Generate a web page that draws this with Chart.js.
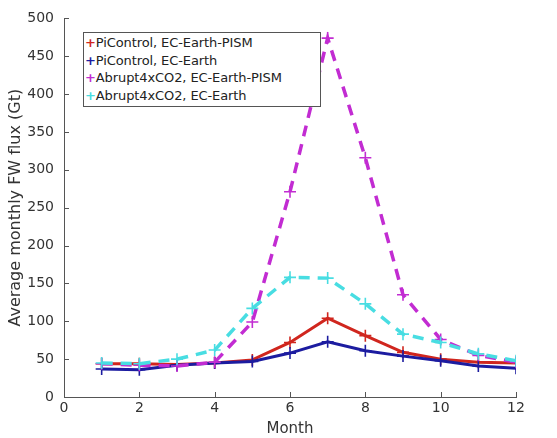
<!DOCTYPE html>
<html>
<head>
<meta charset="utf-8">
<script src="https://cdn.jsdelivr.net/npm/chart.js@4"></script>
<style>
  html, body { margin: 0; padding: 0; background: #fff; }
  #wrap { position: relative; width: 557px; height: 438px; }
  #legend {
    position: absolute; left: 83px; top: 32px; width: 236px;
    border: 1px solid #555; background: #fff;
    font-family: "DejaVu Sans", sans-serif; font-size: 13px; color: #222;
    padding: 1px 0 2px 0; line-height: 17.5px;
  }
  #legend div { white-space: nowrap; padding-left: 1px; letter-spacing: -0.1px; }
  #legend span { font-weight: bold; }
</style>
</head>
<body>
<div id="wrap">
  <canvas id="c" width="557" height="438"></canvas>
  <div id="legend"></div>
</div>
<script>
// データ
const months = [1, 2, 3, 4, 5, 6, 7, 8, 9, 10, 11, 12];
const piPism = [44, 44, 43, 45, 49, 72, 104, 81, 59, 50, 46, 45];
const piEc = [37, 36, 42, 45, 47, 58, 73, 61, 54, 48, 41, 38];
const abPism = [44, 42, 41, 46, 99, 271, 474, 316, 135, 76, 55, 46];
const abEc = [45, 44, 50, 62, 117, 158, 157, 123, 83, 72, 57, 48];
const labels = [
  'PiControl, EC-Earth-PISM',
  'PiControl, EC-Earth',
  'Abrupt4xCO2, EC-Earth-PISM',
  'Abrupt4xCO2, EC-Earth',
];
const xTicks = [0, 2, 4, 6, 8, 10, 12];
const yTicks = [0, 50, 100, 150, 200, 250, 300, 350, 400, 450, 500];

const colors = ['#d0261e', '#1c1ca0', '#c22cd2', '#48dde2'];
const seriesList = [piPism, piEc, abPism, abEc];

const toPts = v => v.map((y, i) => ({ x: months[i], y }));

const datasets = seriesList.map((v, i) => {
  const dashed = i >= 2;
  return {
    label: labels[i],
    data: toPts(v),
    borderColor: colors[i],
    backgroundColor: colors[i],
    borderWidth: dashed ? 3.5 : 3,
    borderDash: dashed ? [11, 8] : [],
    pointStyle: 'cross',
    pointRadius: 6,
    pointBorderWidth: 1.6,
    pointBorderColor: colors[i],
    tension: 0,
    order: 4 - i,
  };
});

// 内向きの目盛りを描く
const inTicks = {
  id: 'inTicks',
  afterDraw(chart) {
    const ctx = chart.ctx;
    const { x, y } = chart.scales;
    const a = chart.chartArea;
    ctx.save();
    ctx.strokeStyle = '#555';
    ctx.lineWidth = 1;
    ctx.beginPath();
    xTicks.forEach(t => {
      const px = Math.round(x.getPixelForValue(t)) + 0.5;
      ctx.moveTo(px, a.bottom);
      ctx.lineTo(px, a.bottom - 5);
    });
    yTicks.forEach(t => {
      const py = Math.round(y.getPixelForValue(t)) + 0.5;
      ctx.moveTo(a.left, py);
      ctx.lineTo(a.left + 5, py);
    });
    ctx.stroke();
    ctx.restore();
  },
};

const font = { family: '"DejaVu Sans", sans-serif', size: 14 };

new Chart(document.getElementById('c'), {
  type: 'line',
  data: { datasets },
  options: {
    responsive: false,
    animation: false,
    layout: { padding: { top: 16, right: 41, left: 0, bottom: 0 } },
    plugins: { legend: { display: false }, tooltip: { enabled: false } },
    scales: {
      x: {
        type: 'linear',
        min: 0,
        max: 12,
        afterBuildTicks: s => { s.ticks = xTicks.map(v => ({ value: v })); },
        afterFit: s => { s.height = 41; },
        grid: { display: false, drawTicks: false },
        border: { display: true, color: '#555', width: 1 },
        ticks: { color: '#333', font, padding: 3, maxRotation: 0 },
        title: { display: true, text: 'Month', color: '#333', font: { ...font, size: 15 }, padding: { top: 0, bottom: 0 } },
      },
      y: {
        min: 0,
        max: 500,
        afterBuildTicks: s => { s.ticks = yTicks.map(v => ({ value: v })); },
        afterFit: s => { s.width = 64; },
        grid: { display: false, drawTicks: false },
        border: { display: true, color: '#555', width: 1 },
        ticks: { color: '#333', font, padding: 10 },
        title: { display: true, text: 'Average monthly FW flux (Gt)', color: '#333', font: { ...font, size: 16 }, padding: { top: 6, bottom: 0 } },
      },
    },
  },
  plugins: [inTicks],
});

// 凡例
const leg = document.getElementById('legend');
labels.forEach((t, i) => {
  const d = document.createElement('div');
  d.innerHTML = `<span style="color:${colors[i]}">+</span>${t}`;
  leg.appendChild(d);
});
</script>
</body>
</html>
